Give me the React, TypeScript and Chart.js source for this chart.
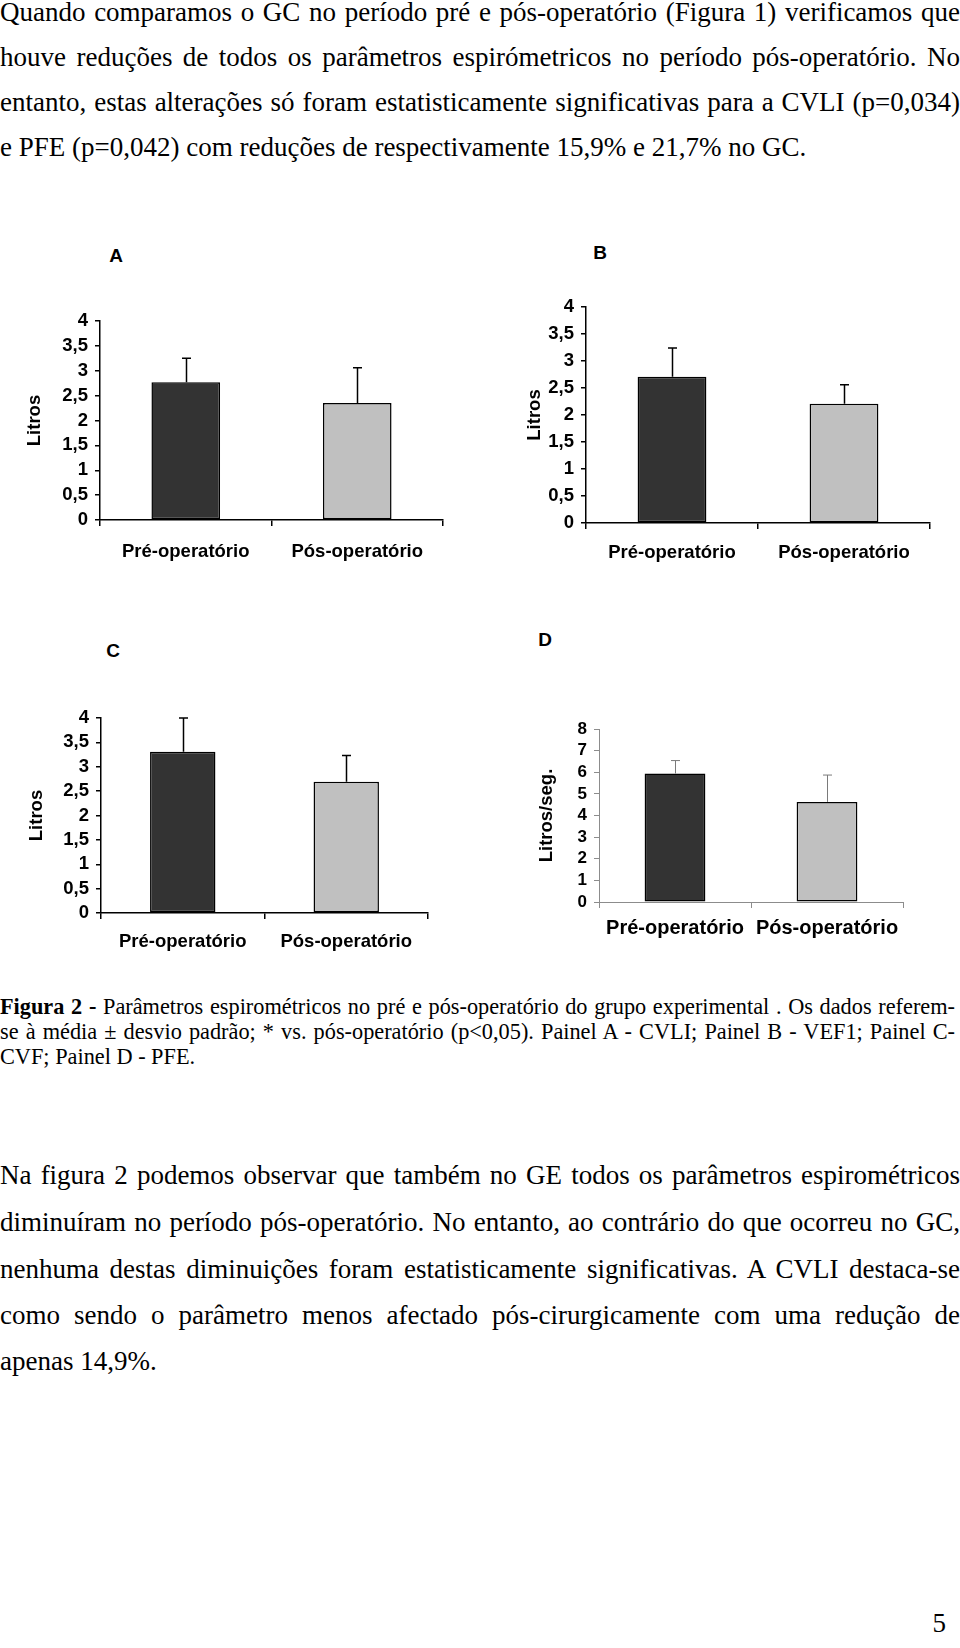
import React, { useEffect, useRef } from "react";
import { Chart, registerables } from "chart.js";

Chart.register(...registerables);

// ---------- data ----------
const categories = ["Pré-operatório", "Pós-operatório"];
const cvliMean = [2.77, 2.35];
const cvliSd = [0.48, 0.71];
const vef1Mean = [2.71, 2.21];
const vef1Sd = [0.53, 0.35];
const cvfMean = [3.31, 2.69];
const cvfSd = [0.69, 0.54];
const pfeMean = [5.94, 4.63];
const pfeSd = [0.6, 1.24];
const litrosTickLabels = ["0", "0,5", "1", "1,5", "2", "2,5", "3", "3,5", "4"];
const pfeTickLabels = ["0", "1", "2", "3", "4", "5", "6", "7", "8"];
const barColors = ["#333333", "#c0c0c0"];

// ---------- text ----------
const introLines = [
  "Quando comparamos o GC no período pré e pós-operatório (Figura 1) verificamos que",
  "houve reduções de todos os parâmetros espirómetricos no período pós-operatório. No",
  "entanto, estas alterações só foram estatisticamente significativas para a CVLI (p=0,034)",
  "e PFE (p=0,042) com reduções de respectivamente 15,9% e 21,7% no GC.",
];
const captionLines = [
  " Parâmetros espirométricos no pré e pós-operatório do grupo experimental . Os dados referem-",
  "se à média ± desvio padrão; * vs. pós-operatório (p<0,05). Painel A - CVLI; Painel B - VEF1; Painel C-",
  "CVF; Painel D - PFE.",
];
const bodyLines = [
  "Na figura 2 podemos observar que também no GE todos os parâmetros espirométricos",
  "diminuíram no período pós-operatório. No entanto, ao contrário do que ocorreu no GC,",
  "nenhuma destas diminuições foram estatisticamente significativas. A CVLI destaca-se",
  "como sendo o parâmetro menos afectado pós-cirurgicamente com uma redução de",
  "apenas 14,9%.",
];

const SANS = "'Liberation Sans', Arial, sans-serif";
const SERIF = "'Liberation Serif', 'Times New Roman', serif";

const errorBarPlugin = {
  id: "errorBars",
  afterDatasetsDraw(chart: any, _args: any, opts: any) {
    const { ctx } = chart;
    const meta = chart.getDatasetMeta(0);
    const yScale = chart.scales.y;
    const values = chart.data.datasets[0].data as number[];
    ctx.save();
    ctx.strokeStyle = opts.color;
    ctx.lineWidth = opts.width;
    meta.data.forEach((bar: any, i: number) => {
      const x = Math.round(bar.x) + 0.5;
      const yTop = yScale.getPixelForValue(values[i] + opts.sd[i]);
      const yBase = yScale.getPixelForValue(values[i]);
      ctx.beginPath();
      ctx.moveTo(x, yBase);
      ctx.lineTo(x, yTop);
      ctx.moveTo(x - opts.cap / 2, yTop);
      ctx.lineTo(x + opts.cap / 2, yTop);
      ctx.stroke();
    });
    ctx.restore();
  },
};

type PanelSpec = {
  letter: string;
  letterX: number;
  letterY: number;
  area: { left: number; top: number; right: number; bottom: number };
  yWidth: number;
  yMax: number;
  step: number;
  tickLabels: string[];
  means: number[];
  sds: number[];
  title: string;
  titleX: number;
  tickSize: number;
  labelSize: number;
  labelPad: number;
  axisColor: string;
  axisWidth: number;
  errColor: string;
  errWidth: number;
};

const panels: PanelSpec[] = [
  {
    letter: "A", letterX: 116, letterY: 255,
    area: { left: 100, top: 321, right: 443, bottom: 520 }, yWidth: 100,
    yMax: 4, step: 0.5, tickLabels: litrosTickLabels, means: cvliMean, sds: cvliSd,
    title: "Litros", titleX: 35, tickSize: 18.5, labelSize: 18.5, labelPad: 15,
    axisColor: "#000", axisWidth: 1.5, errColor: "#000", errWidth: 1.5,
  },
  {
    letter: "B", letterX: 600, letterY: 252,
    area: { left: 586, top: 307, right: 930, bottom: 523 }, yWidth: 86,
    yMax: 4, step: 0.5, tickLabels: litrosTickLabels, means: vef1Mean, sds: vef1Sd,
    title: "Litros", titleX: 535, tickSize: 18.5, labelSize: 18.5, labelPad: 12.5,
    axisColor: "#000", axisWidth: 1.5, errColor: "#000", errWidth: 1.5,
  },
  {
    letter: "C", letterX: 113, letterY: 650,
    area: { left: 101, top: 718, right: 428, bottom: 913 }, yWidth: 101,
    yMax: 4, step: 0.5, tickLabels: litrosTickLabels, means: cvfMean, sds: cvfSd,
    title: "Litros", titleX: 37, tickSize: 18.5, labelSize: 18.5, labelPad: 12,
    axisColor: "#000", axisWidth: 1.5, errColor: "#000", errWidth: 1.5,
  },
  {
    letter: "D", letterX: 545, letterY: 639,
    area: { left: 599, top: 729, right: 903, bottom: 902 }, yWidth: 89,
    yMax: 8, step: 1, tickLabels: pfeTickLabels, means: pfeMean, sds: pfeSd,
    title: "Litros/seg.", titleX: 547, tickSize: 17, labelSize: 20, labelPad: 8,
    axisColor: "#8c8c8c", axisWidth: 1, errColor: "#7a7a7a", errWidth: 1,
  },
];

const PAD_TOP = 20;
const PAD_RIGHT = 12;
const X_HEIGHT = 45;

function BarPanel({ p }: { p: PanelSpec }) {
  const ref = useRef<HTMLCanvasElement>(null);
  const canvasLeft = p.area.left - p.yWidth;
  const canvasTop = p.area.top - PAD_TOP;
  const w = p.area.right + PAD_RIGHT - canvasLeft;
  const h = p.area.bottom + X_HEIGHT - canvasTop;
  const titleFont = 18.5;

  useEffect(() => {
    if (!ref.current) return;
    const chart = new Chart(ref.current, {
      type: "bar",
      data: {
        labels: categories,
        datasets: [
          {
            data: p.means,
            backgroundColor: barColors,
            borderColor: "#000",
            borderWidth: 1.5,
            borderSkipped: false,
            barPercentage: 0.4,
            categoryPercentage: 1,
          } as any,
        ],
      },
      options: {
        responsive: false,
        animation: false,
        devicePixelRatio: 1,
        layout: { padding: { left: 0, top: PAD_TOP, right: PAD_RIGHT, bottom: 0 } },
        plugins: {
          legend: { display: false },
          tooltip: { enabled: false },
          errorBars: { sd: p.sds, color: p.errColor, width: p.errWidth, cap: 9 },
        } as any,
        scales: {
          x: {
            grid: {
              drawOnChartArea: false,
              drawTicks: true,
              tickLength: 6,
              color: p.axisColor,
              lineWidth: p.axisWidth,
              offset: true,
            },
            border: { display: true, color: p.axisColor, width: p.axisWidth },
            ticks: {
              color: "#000",
              font: { family: SANS, size: p.labelSize, weight: "bold" },
              padding: p.labelPad,
              maxRotation: 0,
              autoSkip: false,
            },
            afterFit: (s: any) => {
              s.height = X_HEIGHT;
            },
          },
          y: {
            min: 0,
            max: p.yMax,
            ticks: {
              stepSize: p.step,
              autoSkip: false,
              callback: (_v: any, i: number) => p.tickLabels[i],
              color: "#000",
              font: { family: SANS, size: p.tickSize, weight: "bold" },
              padding: 7,
            },
            grid: {
              drawOnChartArea: false,
              drawTicks: true,
              tickLength: 5,
              color: p.axisColor,
              lineWidth: p.axisWidth,
            },
            border: { display: true, color: p.axisColor, width: p.axisWidth },
            title: {
              display: true,
              text: p.title,
              color: "#000",
              font: { family: SANS, size: titleFont, weight: "bold" },
              padding: { top: p.titleX - canvasLeft - (titleFont * 1.2) / 2, bottom: 0 },
            },
            afterFit: (s: any) => {
              s.width = p.yWidth;
            },
          },
        },
      } as any,
      plugins: [errorBarPlugin],
    });
    return () => chart.destroy();
  }, []);

  return (
    <>
      <div
        style={{
          position: "absolute",
          left: p.letterX - 15,
          width: 30,
          top: p.letterY - 9.3,
          fontFamily: SANS,
          fontWeight: "bold",
          fontSize: 19,
          lineHeight: "19px",
          textAlign: "center",
          color: "#000",
        }}
      >
        {p.letter}
      </div>
      <canvas
        ref={ref}
        width={w}
        height={h}
        style={{ position: "absolute", left: canvasLeft, top: canvasTop, width: w, height: h }}
      />
    </>
  );
}

function Line({
  baseline,
  size,
  justify,
  width = 960,
  children,
}: {
  baseline: number;
  size: number;
  justify?: boolean;
  width?: number;
  children: any;
}) {
  return (
    <div
      style={{
        position: "absolute",
        left: 0,
        width,
        top: baseline - 0.8375 * size,
        fontFamily: SERIF,
        fontSize: size,
        lineHeight: `${size}px`,
        height: size,
        textAlign: justify ? "justify" : "left",
        textAlignLast: justify ? "justify" : "left",
        color: "#000",
      } as any}
    >
      {children}
    </div>
  );
}

const introBaselines = [22, 67, 112, 157];
const captionBaselines = [1015, 1040, 1065];
const bodyBaselines = [1185, 1232, 1279, 1325, 1371];
const TEXT_SIZE = 27;
const CAPTION_SIZE = 22.3;

export default function App() {
  return (
    <div
      style={{
        position: "absolute",
        left: 0,
        top: 0,
        width: 960,
        height: 1648,
        background: "#fff",
        overflow: "hidden",
      }}
    >
      {introLines.map((t, i) => (
        <Line key={"i" + i} baseline={introBaselines[i]} size={TEXT_SIZE} justify={i < introLines.length - 1}>
          {t}
        </Line>
      ))}
      {panels.map((p) => (
        <BarPanel key={p.letter} p={p} />
      ))}
      {captionLines.map((t, i) => (
        <Line key={"c" + i} baseline={captionBaselines[i]} size={CAPTION_SIZE} justify={i < 2} width={955}>
          {i === 0 ? (
            <>
              <b>Figura 2 -</b>
              {t}
            </>
          ) : (
            t
          )}
        </Line>
      ))}
      {bodyLines.map((t, i) => (
        <Line key={"b" + i} baseline={bodyBaselines[i]} size={TEXT_SIZE} justify={i < bodyLines.length - 1}>
          {t}
        </Line>
      ))}
      <div
        style={{
          position: "absolute",
          right: 14,
          top: 1633 - 0.8375 * TEXT_SIZE,
          fontFamily: SERIF,
          fontSize: TEXT_SIZE,
          lineHeight: `${TEXT_SIZE}px`,
          color: "#000",
        }}
      >
        5
      </div>
    </div>
  );
}
